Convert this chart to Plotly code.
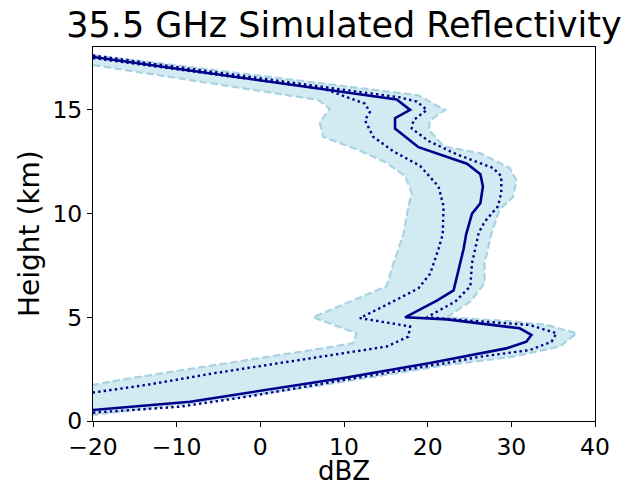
import plotly.graph_objects as go

# ---- data ----
median_dbz = [-20, 16.3, 17.9, 16.1, 16.1, 18.9, 24.7, 26.3, 26.6, 26.3, 25.3, 24.6, 24.3, 23.3, 23.1,
              21.1, 17.3, 22.3, 26.3, 31.0, 32.4, 31.8, 29.4, 26.3, 20.3, 10.3, 0.4, -8.4, -20]
median_h = [17.55, 15.5, 15.0, 14.6, 14.1, 13.2, 12.4, 11.9, 11.3, 10.5, 10.0, 9.0, 8.3, 6.7, 6.3,
            5.8, 5.0, 4.9, 4.71, 4.47, 4.15, 3.82, 3.5, 3.26, 2.8, 2.1, 1.5, 0.93, 0.53]

upper_dbz = [-20, 16.7, 18.7, 19.9, 18.3, 18.1, 20.1, 23.5, 27.8, 28.8, 28.8, 28.4, 26.8, 26.1, 25.3,
             25.1, 23.3, 19.9, 26.3, 32.2, 35.4, 34.8, 32.2, 26.3, 22.3, 10.3, -1.6, -9.6, -20]
upper_h = [17.62, 15.6, 15.4, 15.0, 14.5, 14.1, 13.5, 12.85, 12.2, 11.8, 11.0, 10.35, 9.6, 9.07, 7.6,
           6.5, 5.76, 5.0, 4.8, 4.63, 4.23, 3.82, 3.42, 3.1, 2.8, 2.0, 1.17, 0.69, 0.4]

lower_dbz = [-20, 7.7, 12.5, 13.1, 12.5, 13.5, 15.9, 19.1, 21.3, 21.9, 21.8, 21.3, 20.3, 18.9, 16.3,
             11.9, 17.9, 17.7, 15.1, 6.3, -5.6, -13.6, -20]
lower_h = [17.5, 16.0, 15.3, 14.9, 14.5, 13.7, 13.0, 12.3, 11.3, 10.35, 9.0, 8.3, 7.1, 6.4, 5.85,
           4.96, 4.56, 4.07, 3.59, 3.03, 2.3, 1.74, 1.37]

min_dbz = [-20, 6.9, 8.3, 7.1, 7.5, 11.5, 15.1, 17.3, 18.1, 17.7, 17.1, 15.9, 15.1, 10.7, 6.3,
           11.5, 11.1, 6.3, -5.6, -15.6, -20]
min_h = [17.16, 15.48, 15.05, 14.4, 13.7, 13.1, 12.45, 11.8, 11.0, 10.35, 9.0, 7.6, 6.5, 5.76, 5.0,
         4.23, 3.75, 3.43, 2.7, 2.06, 1.74]

max_dbz = [-20, 18.9, 21.1, 22.1, 20.3, 20.1, 21.9, 26.3, 29.8, 30.6, 30.2, 28.6, 27.6, 26.8, 26.8,
           25.1, 22.3, 30.2, 34.2, 37.8, 35.8, 30.2, 22.3, 6.3, -5.6, -20]
max_h = [17.64, 15.7, 15.2, 15.0, 14.5, 14.06, 13.25, 12.9, 12.2, 11.6, 10.8, 10.2, 9.0, 7.6, 6.65,
         5.76, 5.0, 4.8, 4.63, 4.23, 3.59, 3.1, 2.7, 1.66, 1.0, 0.29]

x_ticks = [-20, -10, 0, 10, 20, 30, 40]
x_tick_labels = ["\u221220", "\u221210", "0", "10", "20", "30", "40"]
y_ticks = [0, 5, 10, 15]
y_tick_labels = ["0", "5", "10", "15"]

title_text = "35.5 GHz Simulated Reflectivity"
x_title = "dBZ"
y_title = "Height (km)"

FONT = "DejaVu Sans"

fig = go.Figure()

# filled envelope (polygon: min edge down, max edge back up)
fig.add_trace(go.Scatter(
    x=min_dbz + max_dbz[::-1], y=min_h + max_h[::-1],
    mode="lines", fill="toself", fillcolor="rgba(173,216,230,0.55)",
    line=dict(width=0), hoverinfo="skip", showlegend=False))

for xs, ys in ((min_dbz, min_h), (max_dbz, max_h)):
    fig.add_trace(go.Scatter(x=xs, y=ys, mode="lines", showlegend=False,
                             line=dict(color="#a9d3e3", width=2.2, dash="7.5px,3.3px")))

for xs, ys in ((lower_dbz, lower_h), (upper_dbz, upper_h)):
    fig.add_trace(go.Scatter(x=xs, y=ys, mode="lines", showlegend=False,
                             line=dict(color="#00008b", width=2.4, dash="2.4px,3.2px")))

fig.add_trace(go.Scatter(x=median_dbz, y=median_h, mode="lines", showlegend=False,
                         line=dict(color="#00008b", width=2.6)))

axis_common = dict(showline=True, linecolor="black", linewidth=1, mirror=True,
                   ticks="outside", ticklen=5, tickwidth=1, tickcolor="black",
                   showgrid=False, zeroline=False,
                   tickfont=dict(family=FONT, size=23.5, color="black"))

fig.update_xaxes(range=[-20, 40], tickvals=x_ticks, ticktext=x_tick_labels, **axis_common)
fig.update_yaxes(range=[0, 18.03], tickvals=y_ticks, ticktext=y_tick_labels, **axis_common)

fig.update_layout(
    width=628, height=485,
    margin=dict(l=93, r=33, t=47, b=64, autoexpand=False),
    paper_bgcolor="white", plot_bgcolor="white",
    font=dict(family=FONT, color="black"),
    title=dict(text=title_text, x=0.5, xref="paper", xanchor="center",
               y=1 - 24.5 / 485, yref="container", yanchor="middle",
               font=dict(family=FONT, size=35, color="black")),
    annotations=[
        dict(text=x_title, xref="paper", yref="paper", x=0.5, y=(421 - 470.5) / 374,
             xanchor="center", yanchor="middle", showarrow=False,
             borderpad=0,
             font=dict(family=FONT, size=26, color="black")),
        dict(text=y_title, xref="paper", yref="paper", x=(29 - 93) / 502, y=0.5,
             xanchor="center", yanchor="middle", textangle=-90, showarrow=False,
             font=dict(family=FONT, size=28, color="black")),
    ],
)

fig.write_html("out.html")
